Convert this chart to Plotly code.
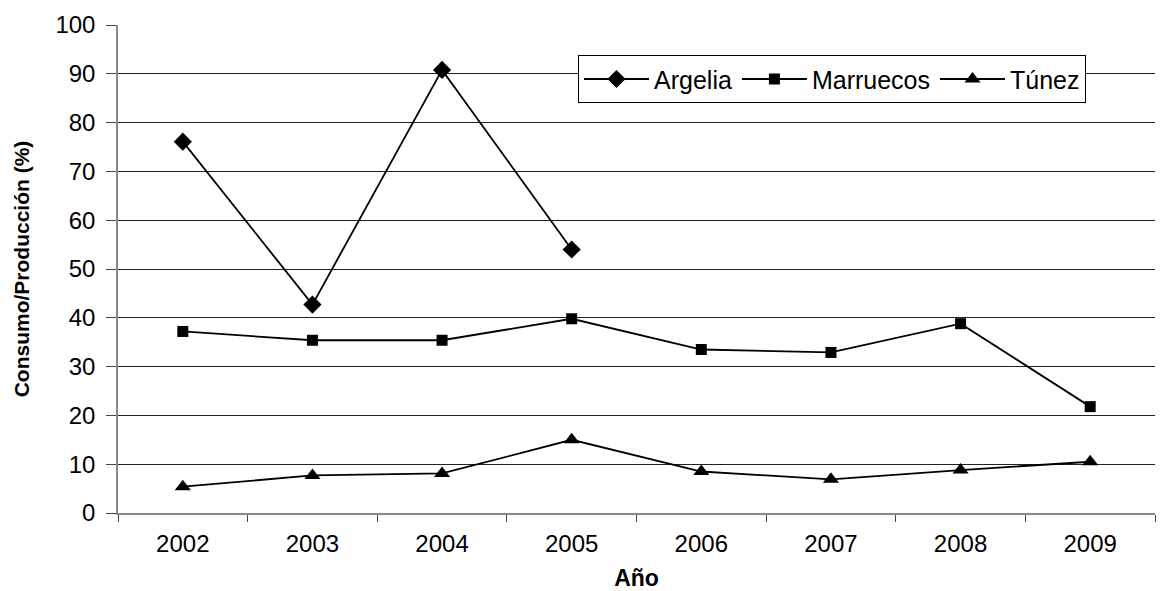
import plotly.graph_objects as go

years = ["2002", "2003", "2004", "2005", "2006", "2007", "2008", "2009"]
argelia = [76.1, 42.7, 90.8, 54.0, None, None, None, None]
marruecos = [37.2, 35.4, 35.4, 39.8, 33.5, 32.9, 38.8, 21.8]
tunez = [5.4, 7.7, 8.1, 15.0, 8.5, 6.9, 8.8, 10.5]

series = [
    ("Argelia", argelia, "diamond", 14),
    ("Marruecos", marruecos, "square", 11),
    ("Túnez", tunez, "triangle-up", 14),
]

fig = go.Figure()
for name, vals, sym, sz in series:
    fig.add_trace(go.Scatter(
        x=years, y=vals, name=name, mode="lines+markers",
        line=dict(color="black", width=1.8),
        marker=dict(symbol=sym, size=sz, color="black"),
        connectgaps=False,
    ))

font = "Liberation Sans, Arial, sans-serif"
fig.update_layout(
    width=1162, height=583,
    margin=dict(l=110, r=15, t=17, b=78, autoexpand=False),
    plot_bgcolor="white", paper_bgcolor="white",
    font=dict(family=font, size=24, color="black"),
    showlegend=True,
    legend=dict(
        orientation="h", x=0.4436, y=0.938, xanchor="left", yanchor="top",
        bgcolor="white", bordercolor="black", borderwidth=1,
        font=dict(size=25, family=font), itemwidth=65,
    ),
    xaxis=dict(
        type="category", range=[-0.5, 7.5], tickson="boundaries",
        ticks="outside", ticklen=7, tickcolor="#444",
        ticklabelstandoff=8, automargin=False,
        showline=True, linecolor="#888", linewidth=1.5,
        showgrid=False, zeroline=False,
        tickfont=dict(size=24),
        title=dict(text="<b>Año</b>", font=dict(size=23), standoff=16),
    ),
    yaxis=dict(
        range=[0, 100], dtick=10, tick0=0,
        ticks="outside", ticklen=10, tickcolor="#444",
        ticklabelstandoff=6, automargin=False,
        showline=True, linecolor="#888", linewidth=1.5,
        showgrid=True, gridcolor="#222", gridwidth=1,
        zeroline=False,
        tickfont=dict(size=24),
        title=dict(text="<b>Consumo/Producción (%)</b>", font=dict(size=21), standoff=20),
    ),
)

fig.write_html("out.html")
